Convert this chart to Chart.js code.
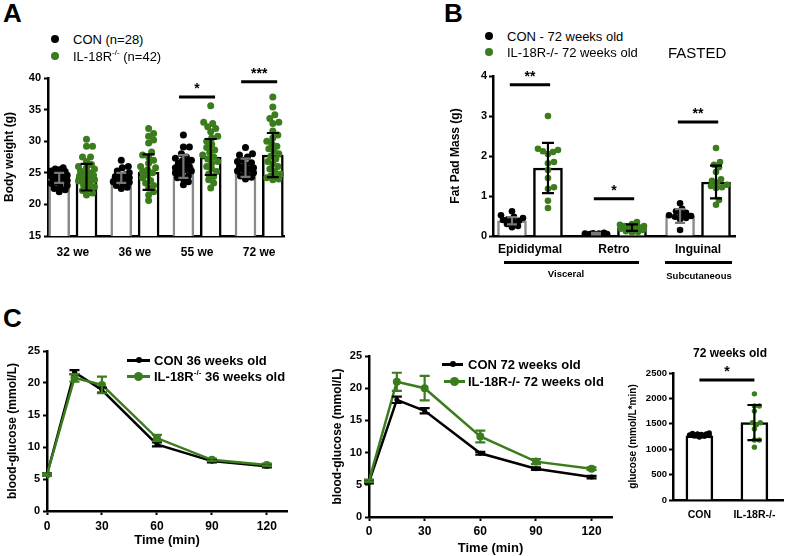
<!DOCTYPE html>
<html>
<head>
<meta charset="utf-8">
<title>IL-18R: body weight, fat pads, glucose tolerance</title>
<script src="https://cdn.jsdelivr.net/npm/chart.js@4.4.1/dist/chart.umd.min.js"></script>
<style>
  body { margin: 0; background: #fff; }
  #fig { position: relative; width: 787px; height: 556px; overflow: hidden; font-family: "Liberation Sans", Arial, sans-serif; color: #000; }
  #fig canvas { position: absolute; }
  .t { position: absolute; line-height: 1; white-space: nowrap; transform: translateY(-50%); }
  .c { transform: translate(-50%, -50%); }
  .b { font-weight: bold; }
  .dot { position: absolute; border-radius: 50%; }
  .rule { position: absolute; background: #000; }
  .g { background: #3b7c1d; }
  sup { font-size: 0.62em; line-height: 0; position: relative; top: -0.1em; vertical-align: super; }
</style>
</head>
<body>
<div id="fig">
  <canvas id="cA" width="300" height="215" style="left:0;top:60px"></canvas>
  <canvas id="cB" width="310" height="215" style="left:440px;top:60px"></canvas>
  <canvas id="cC1" width="300" height="215" style="left:0;top:335px"></canvas>
  <canvas id="cC2" width="325" height="225" style="left:300px;top:335px"></canvas>
  <canvas id="cC3" width="187" height="200" style="left:600px;top:335px"></canvas>

  <div class="t b" style="left:3px;top:13px;font-size:26px">A</div>
  <div class="t b" style="left:444px;top:13px;font-size:26px">B</div>
  <div class="t b" style="left:3px;top:318px;font-size:26px">C</div>

  <!-- legend A -->
  <div class="dot" style="left:51px;top:35px;width:8px;height:8px;background:#000"></div>
  <div class="t" style="left:73px;top:39px;font-size:13px">CON (n=28)</div>
  <div class="dot g" style="left:51px;top:52px;width:8px;height:8px"></div>
  <div class="t" style="left:73px;top:56px;font-size:13px">IL-18R<sup>-/-</sup> (n=42)</div>

  <!-- legend B -->
  <div class="dot" style="left:485px;top:32px;width:8px;height:8px;background:#000"></div>
  <div class="t" style="left:507px;top:36px;font-size:13px">CON - 72 weeks old</div>
  <div class="dot g" style="left:485px;top:48px;width:8px;height:8px"></div>
  <div class="t" style="left:507px;top:52px;font-size:13px">IL-18R-/- 72 weeks old</div>
  <div class="t" style="left:668px;top:52px;font-size:15px">FASTED</div>

  <div class="rule" style="left:504px;top:260.5px;width:135px;height:3px"></div>
  <div class="t c b" style="left:566px;top:274px;font-size:9.5px">Visceral</div>
  <div class="rule" style="left:665px;top:260.5px;width:67px;height:3px"></div>
  <div class="t c b" style="left:699px;top:276px;font-size:9.5px">Subcutaneous</div>

  <!-- legend C 36 weeks -->
  <div class="rule" style="left:127px;top:358.5px;width:23px;height:3px"></div>
  <div class="dot" style="left:135.5px;top:357px;width:6px;height:6px;background:#000"></div>
  <div class="t b" style="left:154px;top:360px;font-size:13px">CON 36 weeks old</div>
  <div class="rule g" style="left:127px;top:374.5px;width:23px;height:3px"></div>
  <div class="dot g" style="left:134px;top:371.5px;width:9px;height:9px"></div>
  <div class="t b" style="left:154px;top:376px;font-size:13px">IL-18R<sup>-/-</sup> 36 weeks old</div>

  <!-- legend C 72 weeks -->
  <div class="rule" style="left:442px;top:362.5px;width:21px;height:3px"></div>
  <div class="dot" style="left:449.5px;top:361px;width:6px;height:6px;background:#000"></div>
  <div class="t b" style="left:468px;top:364px;font-size:13px">CON 72 weeks old</div>
  <div class="rule g" style="left:444px;top:379.5px;width:21px;height:3px"></div>
  <div class="dot g" style="left:450px;top:376.5px;width:9px;height:9px"></div>
  <div class="t b" style="left:468px;top:381px;font-size:13px">IL-18R-/- 72 weeks old</div>

  <div class="t c b" style="left:730px;top:353px;font-size:12px">72 weeks old</div>
</div>

<script>
// ---- A: body weight ----
const ageGroups = ['32 we', '36 we', '55 we', '72 we'];
const bwConMean = [24.2, 24.2, 26.0, 25.8];
const bwConSd   = [0.8, 0.8, 1.8, 1.45];
const bwKoMean  = [24.3, 25.1, 27.5, 27.8];
const bwKoSd    = [2.1, 2.8, 2.85, 3.5];
const bwConDots = [
  [25.8, 25.6, 25.5, 25.3, 25.0, 24.8, 24.6, 24.5, 24.3, 24.2, 24.1, 24.0, 23.8, 23.7, 23.5, 23.3, 23.0, 22.8, 22.5, 22.3, 22.0, 25.2],
  [27.0, 26.0, 25.8, 25.3, 25.0, 24.7, 24.5, 24.4, 24.2, 24.0, 23.8, 23.6, 23.5, 23.2, 23.0, 22.7, 22.5],
  [31.0, 29.1, 29.1, 28.0, 27.5, 27.3, 27.0, 26.9, 26.7, 26.5, 26.2, 26.0, 25.8, 25.7, 25.5, 25.3, 25.0, 24.8, 24.5, 24.2, 24.0, 23.6, 23.1],
  [29.0, 28.0, 27.8, 27.5, 27.0, 26.8, 26.6, 26.3, 26.0, 25.8, 25.6, 25.5, 25.3, 25.0, 24.8, 24.5, 24.3, 24.0]
];
const bwKoDots = [
  [30.3, 29.2, 29.2, 27.5, 27.5, 26.8, 26.3, 26.0, 25.8, 25.6, 25.3, 25.0, 24.8, 24.6, 24.5, 24.2, 24.0, 23.9, 23.7, 23.4, 23.1, 22.8, 22.5, 22.2, 21.8, 21.5],
  [32.0, 31.2, 30.8, 30.2, 29.7, 28.3, 27.8, 27.5, 27.0, 26.5, 26.0, 25.8, 25.5, 25.2, 25.0, 24.6, 24.2, 23.8, 23.4, 23.0, 22.6, 22.0, 21.5, 20.6],
  [35.6, 33.0, 32.8, 32.3, 32.0, 31.5, 30.8, 30.5, 30.0, 29.5, 29.0, 28.6, 28.2, 27.8, 27.5, 27.2, 26.8, 26.5, 26.0, 25.6, 25.2, 24.8, 24.4, 23.9, 23.4, 22.6],
  [37.0, 35.4, 34.2, 33.6, 33.0, 32.8, 31.6, 31.0, 30.5, 30.0, 29.6, 29.2, 28.8, 28.4, 28.0, 27.6, 27.2, 26.8, 26.4, 26.0, 25.6, 25.2, 24.8, 24.5, 24.3, 24.2, 24.0, 23.9]
];
const bwSig = [{group: 2, y: 37.0, label: '*'}, {group: 3, y: 39.4, label: '***'}];

// ---- B: fat pads ----
const depots = ['Epididymal', 'Retro', 'Inguinal'];
const fatConMean = [0.38, 0.06, 0.50];
const fatConSd   = [0.09, 0.02, 0.17];
const fatKoMean  = [1.70, 0.21, 1.35];
const fatKoSd    = [0.63, 0.08, 0.41];
const fatConDots = [
  [0.62, 0.52, 0.48, 0.45, 0.42, 0.40, 0.38, 0.35, 0.30, 0.25, 0.22],
  [0.08, 0.07, 0.06, 0.05, 0.05, 0.04, 0.06, 0.03],
  [0.82, 0.68, 0.62, 0.58, 0.55, 0.52, 0.50, 0.48, 0.45, 0.42, 0.15]
];
const fatKoDots = [
  [3.0, 2.18, 2.15, 2.12, 2.10, 2.05, 1.85, 1.82, 1.65, 1.45, 1.22, 1.18, 0.88, 0.70],
  [0.35, 0.30, 0.28, 0.25, 0.22, 0.20, 0.18, 0.15, 0.12, 0.10, 0.08, 0.20, 0.25],
  [2.2, 1.85, 1.78, 1.72, 1.60, 1.42, 1.38, 1.33, 1.28, 1.25, 1.22, 1.20, 0.90, 0.78]
];
const fatSig = [{group: 0, y: 3.78, label: '**'}, {group: 1, y: 0.93, label: '*'}, {group: 2, y: 2.85, label: '**'}];

// ---- C: glucose tolerance ----
const gttTimes = [0, 15, 30, 60, 90, 120];
const gttTicks = [0, 30, 60, 90, 120];
const gtt36Con    = [5.7, 21.7, 18.9, 10.4, 7.8, 7.0];
const gtt36ConSem = [0.2, 0.3, 0.4, 0.3, 0.2, 0.2];
const gtt36Ko     = [5.7, 20.8, 19.7, 11.4, 8.0, 7.2];
const gtt36KoSem  = [0.2, 0.6, 1.3, 0.5, 0.2, 0.2];
const gtt72Con    = [5.4, 18.2, 16.5, 9.9, 7.5, 6.2];
const gtt72ConSem = [0.2, 0.5, 0.4, 0.2, 0.2, 0.2];
const gtt72Ko     = [5.6, 21.0, 20.0, 12.5, 8.6, 7.5];
const gtt72KoSem  = [0.2, 1.4, 1.9, 0.9, 0.4, 0.2];

const aucGroups = ['CON', 'IL-18R-/-'];
const aucMean = [1265, 1525];
const aucSd   = [35, 345];
const aucDots = [
  [1240, 1260, 1270, 1280, 1290, 1300, 1310, 1320, 1270, 1300],
  [2090, 1850, 1850, 1750, 1520, 1520, 1480, 1400, 1180, 1180, 1040]
];
const aucSig = {y: 2360, label: '*'};

const GREEN = '#3b7c1d';
const GREY = '#8a8a8a';

Chart.defaults.font.family = '"Liberation Sans", Arial, sans-serif';
Chart.defaults.font.weight = 'bold';
Chart.defaults.color = '#000';
Chart.defaults.animation = false;
Chart.defaults.events = [];
Chart.defaults.plugins.legend.display = false;
Chart.defaults.plugins.tooltip.enabled = false;

// mean ± sd / sem whiskers
const errorBars = {
  id: 'errorBars',
  afterDatasetsDraw(chart, args, opts) {
    const {ctx, scales: {x, y}} = chart;
    (opts.items || []).forEach(it => {
      const px = x.getPixelForValue(it.x);
      const top = y.getPixelForValue(it.hi), bot = y.getPixelForValue(it.lo);
      ctx.save();
      ctx.strokeStyle = it.color;
      ctx.lineWidth = 2.2;
      ctx.beginPath();
      ctx.moveTo(px, top); ctx.lineTo(px, bot);
      ctx.moveTo(px - it.cap, top); ctx.lineTo(px + it.cap, top);
      ctx.moveTo(px - it.cap, bot); ctx.lineTo(px + it.cap, bot);
      ctx.stroke();
      ctx.restore();
    });
  }
};

// significance bars with stars
const sigMarks = {
  id: 'sigMarks',
  afterDatasetsDraw(chart, args, opts) {
    const {ctx, scales: {x, y}} = chart;
    (opts.items || []).forEach(s => {
      const x0 = x.getPixelForValue(s.x0), x1 = x.getPixelForValue(s.x1), py = y.getPixelForValue(s.y);
      ctx.save();
      ctx.strokeStyle = '#000';
      ctx.lineWidth = 3;
      ctx.beginPath(); ctx.moveTo(x0, py); ctx.lineTo(x1, py); ctx.stroke();
      ctx.fillStyle = '#000';
      ctx.font = 'bold 14px "Liberation Sans", Arial, sans-serif';
      ctx.textAlign = 'center';
      ctx.textBaseline = 'alphabetic';
      ctx.fillText(s.label, (x0 + x1) / 2, py - 4);
      ctx.restore();
    });
  }
};

// beeswarm: spread dots sideways (pixel space) so they overlap less
function swarm(values, center, r, pxX, pxY, maxHalf) {
  const placed = [], pts = [];
  const minSep = r * 1.6;
  const order = values.map((v, i) => i).sort((a, b) => values[a] - values[b]);
  order.forEach(i => {
    const py = values[i] * pxY;
    let best = 0, bestD = -1;
    for (let k = 0; k <= 2 * maxHalf; k++) {
      const off = k % 2 ? (k + 1) / 2 : -k / 2;
      let d = Infinity;
      placed.forEach(p => { d = Math.min(d, Math.hypot(p.ox - off, p.py - py)); });
      if (d >= minSep) { best = off; bestD = d; break; }
      if (d > bestD) { bestD = d; best = off; }
    }
    placed.push({ox: best, py});
    pts.push({x: center + best / pxX, y: values[i]});
  });
  return pts;
}

function barSet(means, shift, color, thick) {
  return {
    type: 'bar', data: means.map((m, i) => ({x: i + shift, y: m})),
    backgroundColor: '#fff', borderColor: color, borderWidth: 2.5,
    barThickness: thick, grouped: false, order: 3
  };
}

function dotSet(groups, shift, color, r, pxX, pxY, half) {
  const pts = [];
  groups.forEach((vals, i) => pts.push(...swarm(vals, i + shift, r, pxX, pxY, half)));
  return {type: 'scatter', data: pts, pointRadius: r, pointBackgroundColor: color, pointBorderWidth: 0, order: 1};
}

function sdItems(means, sds, shift, color, cap) {
  return means.map((m, i) => ({x: i + shift, lo: m - sds[i], hi: m + sds[i], color, cap}));
}

function valueAxis(min, max, step, width, title, tickSize, titleSize, titlePad, tickPad = 3) {
  return {
    type: 'linear', min, max, beginAtZero: false,
    ticks: {stepSize: step, padding: tickPad, font: {size: tickSize}, callback: v => String(v)},
    grid: {drawOnChartArea: false, color: '#000', tickLength: 4, tickWidth: 2},
    border: {color: '#000', width: 2.5},
    title: {display: true, text: title, font: {size: titleSize}, padding: {top: titlePad, bottom: 0}},
    afterFit: s => { s.width = width; }
  };
}

function groupAxis(labels, min, max, height, pad, size) {
  return {
    type: 'linear', min, max, offset: false,
    afterBuildTicks: s => { s.ticks = labels.map((_, i) => ({value: i})); },
    ticks: {callback: v => labels[v], padding: pad, font: {size}, autoSkip: false, maxRotation: 0},
    grid: {display: false, drawTicks: false, offset: false},
    border: {color: '#000', width: 2.5},
    afterFit: s => { s.height = height; }
  };
}

function timeAxis(height, tickPad, titlePad) {
  return {
    type: 'linear', min: 0, max: 131,
    afterBuildTicks: s => { s.ticks = gttTicks.map(v => ({value: v})); },
    ticks: {padding: tickPad, font: {size: 12}, autoSkip: false, maxRotation: 0},
    grid: {drawOnChartArea: false, color: '#000', tickLength: 4, tickWidth: 2},
    border: {color: '#000', width: 2.5},
    title: {display: true, text: 'Time (min)', font: {size: 13}, padding: {top: 0, bottom: titlePad}},
    afterFit: s => { s.height = height; }
  };
}

function gttSet(vals, color, r, order) {
  return {
    data: gttTimes.map((t, i) => ({x: t, y: vals[i]})),
    borderColor: color, backgroundColor: color, borderWidth: 2.5,
    pointRadius: r, pointBackgroundColor: color, pointBorderWidth: 0, tension: 0, order
  };
}

function gttErr(vals, sems, color) {
  return gttTimes.map((t, i) => ({x: t, lo: vals[i] - sems[i], hi: vals[i] + sems[i], color, cap: 5}));
}

// Panel A (x: 62 px per group, y: 6.32 px per g)
const A_SHIFT = 0.22;
new Chart(document.getElementById('cA'), {
  type: 'bar',
  data: {datasets: [
    barSet(bwConMean, -A_SHIFT, GREY, 21),
    barSet(bwKoMean, A_SHIFT, '#000', 21),
    dotSet(bwConDots, -A_SHIFT, '#000', 3.5, 62, 6.32, 8),
    dotSet(bwKoDots, A_SHIFT, GREEN, 3.5, 62, 6.32, 8)
  ]},
  options: {
    responsive: false,
    layout: {padding: {top: 18, right: 16, left: 0, bottom: 0}},
    scales: {
      x: groupAxis(ageGroups, -0.4, 3.4, 39, 9, 12),
      y: valueAxis(15, 40, 5, 48, 'Body weight (g)', 11, 12, 2.8)
    },
    plugins: {
      errorBars: {items: [...sdItems(bwConMean, bwConSd, -A_SHIFT, '#777', 5), ...sdItems(bwKoMean, bwKoSd, A_SHIFT, '#000', 6)]},
      sigMarks: {items: bwSig.map(s => ({x0: s.group - 0.29, x1: s.group + 0.29, y: s.y, label: s.label}))}
    }
  },
  plugins: [errorBars, sigMarks]
});

// Panel B (x: 84 px per depot, y: 40 px per g)
const B_SHIFT = 0.214;
new Chart(document.getElementById('cB'), {
  type: 'bar',
  data: {datasets: [
    barSet(fatConMean, -B_SHIFT, GREY, 29),
    barSet(fatKoMean, B_SHIFT, '#000', 29),
    dotSet(fatConDots, -B_SHIFT, '#000', 3.3, 84, 40, 11),
    dotSet(fatKoDots, B_SHIFT, GREEN, 3.3, 84, 40, 12)
  ]},
  options: {
    responsive: false,
    layout: {padding: {top: 16, right: 15, left: 0, bottom: 0}},
    scales: {
      x: groupAxis(depots, -0.44, 2.44, 39, 6, 12),
      y: valueAxis(0, 4, 1, 53, 'Fat Pad Mass (g)', 11, 12, 8, 2)
    },
    plugins: {
      errorBars: {items: [...sdItems(fatConMean, fatConSd, -B_SHIFT, '#777', 5), ...sdItems(fatKoMean, fatKoSd, B_SHIFT, '#000', 6)]},
      sigMarks: {items: fatSig.map(s => ({x0: s.group - 0.24, x1: s.group + 0.24, y: s.y, label: s.label}))}
    }
  },
  plugins: [errorBars, sigMarks]
});

// Panel C, 36 weeks
new Chart(document.getElementById('cC1'), {
  type: 'line',
  data: {datasets: [gttSet(gtt36Ko, GREEN, 4, 1), gttSet(gtt36Con, '#000', 2.5, 2)]},
  options: {
    responsive: false,
    layout: {padding: {top: 16, right: 13, left: 0, bottom: 0}},
    scales: {
      x: timeAxis(39, 4, 2.2),
      y: valueAxis(0, 25, 5, 47, 'blood-glucose (mmol/L)', 11, 12, 5.8)
    },
    plugins: {errorBars: {items: [...gttErr(gtt36Con, gtt36ConSem, '#000'), ...gttErr(gtt36Ko, gtt36KoSem, GREEN)]}}
  },
  plugins: [errorBars]
});

// Panel C, 72 weeks
new Chart(document.getElementById('cC2'), {
  type: 'line',
  data: {datasets: [gttSet(gtt72Ko, GREEN, 4, 1), gttSet(gtt72Con, '#000', 2.5, 2)]},
  options: {
    responsive: false,
    layout: {padding: {top: 21, right: 13, left: 24, bottom: 0}},
    scales: {
      x: timeAxis(43, 3, 4.2),
      y: valueAxis(0, 25, 5, 45, 'blood-glucose (mmol/L)', 11, 12, 6.3)
    },
    plugins: {errorBars: {items: [...gttErr(gtt72Con, gtt72ConSem, '#000'), ...gttErr(gtt72Ko, gtt72KoSem, GREEN)]}}
  },
  plugins: [errorBars]
});

// Panel C, area under curve (x: 56 px per group, y: 127 px per 2500)
new Chart(document.getElementById('cC3'), {
  type: 'bar',
  data: {datasets: [
    barSet(aucMean, 0, '#000', 27),
    dotSet([aucDots[0]], 0, '#000', 2.7, 56, 127 / 2500, 10),
    dotSet([[], aucDots[1]], 0, GREEN, 2.7, 56, 127 / 2500, 8)
  ]},
  options: {
    responsive: false,
    layout: {padding: {top: 38, right: 2, left: 25, bottom: 0}},
    scales: {
      x: groupAxis(aucGroups, -0.48, 1.52, 35, 9, 10.5),
      y: valueAxis(0, 2500, 500, 48, 'glucose (mmol/L*min)', 9.5, 10, 2, 2)
    },
    plugins: {
      errorBars: {items: sdItems(aucMean, aucSd, 0, '#000', 7)},
      sigMarks: {items: [{x0: 0, x1: 1, y: aucSig.y, label: aucSig.label}]}
    }
  },
  plugins: [errorBars, sigMarks]
});
</script>
</body>
</html>
